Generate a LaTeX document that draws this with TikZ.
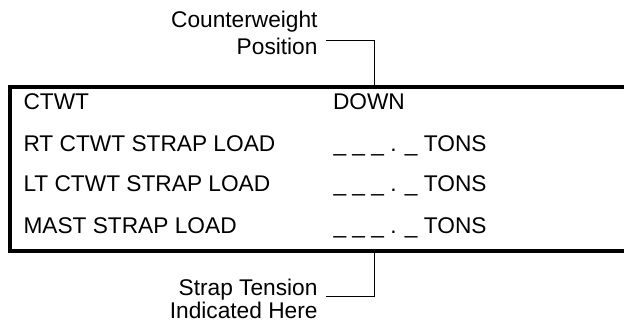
\documentclass[tikz,border=0pt]{standalone}
\usepackage{fontspec}
\setmainfont{Liberation Sans}
\begin{document}
\begin{tikzpicture}[x=1pt,y=-1pt,
  lbl/.style={inner sep=0pt,outer sep=0pt,font=\fontsize{22.7}{25}\selectfont,text=black},
  lead/.style={line width=1.5pt},
  panel/.style={draw,line width=4pt,inner sep=0pt,minimum width=640pt,minimum height=164pt,anchor=north west}]
\useasboundingbox (0,0) rectangle (624,323);
\clip (0,0) rectangle (624,323);
% panel
\node[panel] (box) at (8,85) {};
% rows
\node[lbl,anchor=base west] (r1a) at (23.5,110) {CTWT};
\node[lbl,anchor=base west] (r1b) at (333,110) {DOWN};
\node[lbl,anchor=base west] (r2a) at (23.5,151.5) {RT CTWT STRAP LOAD};
\node[lbl,anchor=base west] (r2b) at (333.5,151.5) {\_ \_ \_ . \_ TONS};
\node[lbl,anchor=base west] (r3a) at (23.5,192) {LT CTWT STRAP LOAD};
\node[lbl,anchor=base west] (r3b) at (333.5,192) {\_ \_ \_ . \_ TONS};
\node[lbl,anchor=base west] (r4a) at (23.5,233.5) {MAST STRAP LOAD};
\node[lbl,anchor=base west] (r4b) at (333.5,233.5) {\_ \_ \_ . \_ TONS};
% labels (base anchor = baseline of the last line)
\node[lbl,align=right,anchor=base east,font=\fontsize{22.7}{26.5}\selectfont] (cw) at (317.5,54.5) {Counterweight\\Position};
\node[lbl,align=right,anchor=base east,font=\fontsize{22.7}{20}\selectfont] (st) at (317.5,318) {Strap Tension\\Indicated Here};
% leaders
\coordinate (cwA) at (326,40.5);
\coordinate (cwB) at (374.5,40.5);
\draw[lead] (cwA) -- (cwB) -- (cwB |- box.north);
\coordinate (stA) at (326,296.5);
\coordinate (stB) at (374.5,296.5);
\draw[lead] (stA) -- (stB) -- (stB |- box.south);
\end{tikzpicture}
\end{document}
